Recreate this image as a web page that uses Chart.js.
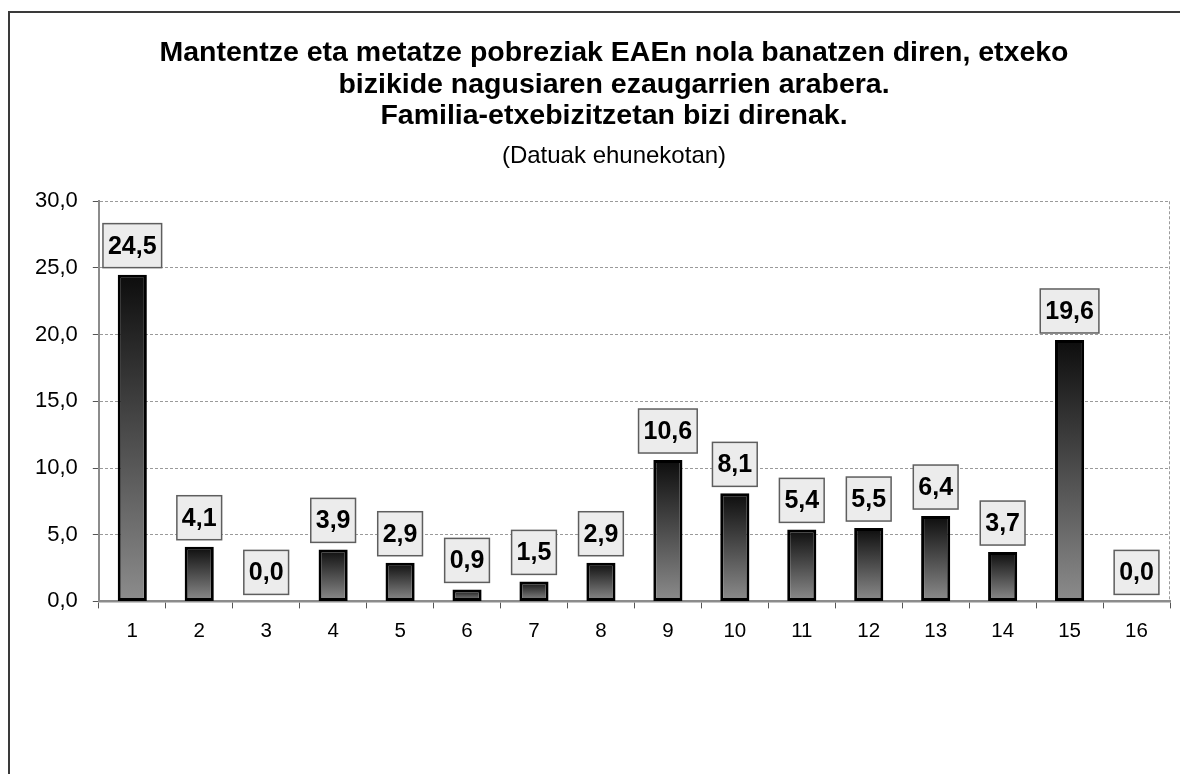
<!DOCTYPE html>
<html>
<head>
<meta charset="utf-8">
<script src="https://cdn.jsdelivr.net/npm/chart.js@4.4.1/dist/chart.umd.min.js"></script>
<style>
  html, body { margin: 0; padding: 0; background: #fff; overflow: hidden; width: 1180px; height: 774px; }
  #frame { position: absolute; left: 8px; top: 11px; width: 2000px; height: 2000px; border-left: 2px solid #3a3a3a; border-top: 2px solid #3a3a3a; box-sizing: border-box; }
  #wrap { position: absolute; left: 0; top: 0; width: 1228px; height: 774px; }
</style>
</head>
<body>
<div id="frame"></div>
<div id="wrap"><canvas id="c" width="1228" height="774"></canvas></div>
<script>
const titleLines = [
  'Mantentze eta metatze pobreziak EAEn nola banatzen diren, etxeko',
  'bizikide nagusiaren ezaugarrien arabera.',
  'Familia-etxebizitzetan bizi direnak.'
];
const subtitleText = '(Datuak ehunekotan)';
const categories = ['1','2','3','4','5','6','7','8','9','10','11','12','13','14','15','16'];
const values = [24.5, 4.1, 0.0, 3.9, 2.9, 0.9, 1.5, 2.9, 10.6, 8.1, 5.4, 5.5, 6.4, 3.7, 19.6, 0.0];
const yMin = 0, yMax = 30, yStep = 5;

const FONT = "'Liberation Sans', Arial, Helvetica, sans-serif";
const fmt = v => Number(v).toFixed(1).replace('.', ',');

const barGradient = (ctx) => {
  const chart = ctx.chart;
  if (!chart.chartArea || ctx.type !== 'data') return '#555';
  const ys = chart.scales.y;
  const top = ys.getPixelForValue(ctx.parsed.y);
  const base = ys.getPixelForValue(0);
  if (!isFinite(top) || base - top < 1) return '#555';
  const g = chart.ctx.createLinearGradient(0, top, 0, base);
  g.addColorStop(0, '#0d0d0d');
  g.addColorStop(1, '#8c8c8c');
  return g;
};

const labelBoxes = {
  id: 'labelBoxes',
  afterDatasetsDraw(chart) {
    const ctx = chart.ctx;
    const meta = chart.getDatasetMeta(0);
    ctx.save();
    ctx.font = 'bold 25px ' + FONT;
    ctx.textAlign = 'center';
    ctx.textBaseline = 'middle';
    meta.data.forEach((el, i) => {
      const txt = fmt(values[i]);
      const w = ctx.measureText(txt).width + 10;
      const h = 44;
      const bottom = el.y - 7;
      const left = el.x - w / 2;
      const top = bottom - h;
      ctx.fillStyle = '#ececec';
      ctx.fillRect(left, top, w, h);
      ctx.lineWidth = 1.5;
      ctx.strokeStyle = '#5e5e5e';
      ctx.strokeRect(left, top, w, h);
      ctx.fillStyle = '#000';
      ctx.fillText(txt, el.x, top + h / 2 + 1);
    });
    ctx.restore();
  }
};

const rightBorder = {
  id: 'rightBorder',
  beforeDatasetsDraw(chart) {
    const {ctx, chartArea} = chart;
    ctx.save();
    ctx.strokeStyle = '#9a9a9a';
    ctx.lineWidth = 1;
    ctx.setLineDash([3, 2]);
    ctx.beginPath();
    ctx.moveTo(Math.round(chartArea.right) - 0.5, chartArea.top);
    ctx.lineTo(Math.round(chartArea.right) - 0.5, chartArea.bottom);
    ctx.stroke();
    ctx.restore();
  }
};

new Chart(document.getElementById('c'), {
  type: 'bar',
  data: {
    labels: categories,
    datasets: [{
      data: values,
      backgroundColor: barGradient,
      borderColor: '#000',
      borderWidth: 3,
      borderSkipped: false,
      barPercentage: 0.435,
      categoryPercentage: 1.0
    }]
  },
  options: {
    responsive: false,
    animation: false,
    events: [],
    layout: { padding: { left: 20, right: 20, top: 0, bottom: 120 } },
    plugins: {
      legend: { display: false },
      tooltip: { enabled: false },
      title: {
        display: true,
        text: titleLines,
        color: '#000',
        font: { family: FONT, size: 28.5, weight: 'bold', lineHeight: 1.105 },
        padding: { top: 37.5, bottom: 0 }
      },
      subtitle: {
        display: true,
        text: subtitleText,
        color: '#000',
        font: { family: FONT, size: 24, weight: 'normal', lineHeight: 1.2 },
        padding: { top: 10, bottom: 30.5 }
      }
    },
    scales: {
      x: {
        grid: { display: true, drawOnChartArea: false, drawTicks: true, tickLength: 7, tickColor: '#555', tickWidth: 1, offset: true },
        border: { display: true, color: '#8c8c8c', width: 2.5 },
        ticks: { color: '#000', font: { family: FONT, size: 20.5 }, padding: 10.5, maxRotation: 0 }
      },
      y: {
        min: yMin, max: yMax,
        grid: { color: '#9a9a9a', lineWidth: 1, drawTicks: true, tickLength: 6, tickColor: '#555', tickWidth: 1 },
        border: { display: true, color: '#8c8c8c', width: 2, dash: [3, 2] },
        ticks: { stepSize: yStep, color: '#000', font: { family: FONT, size: 22 }, padding: 15, callback: v => fmt(v) }
      },
      spacer: {
        type: 'linear',
        position: 'right',
        display: true,
        grid: { display: false },
        border: { display: false },
        ticks: { display: false },
        afterFit: (s) => { s.width = 38; }
      }
    }
  },
  plugins: [rightBorder, labelBoxes]
});
</script>
</body>
</html>
